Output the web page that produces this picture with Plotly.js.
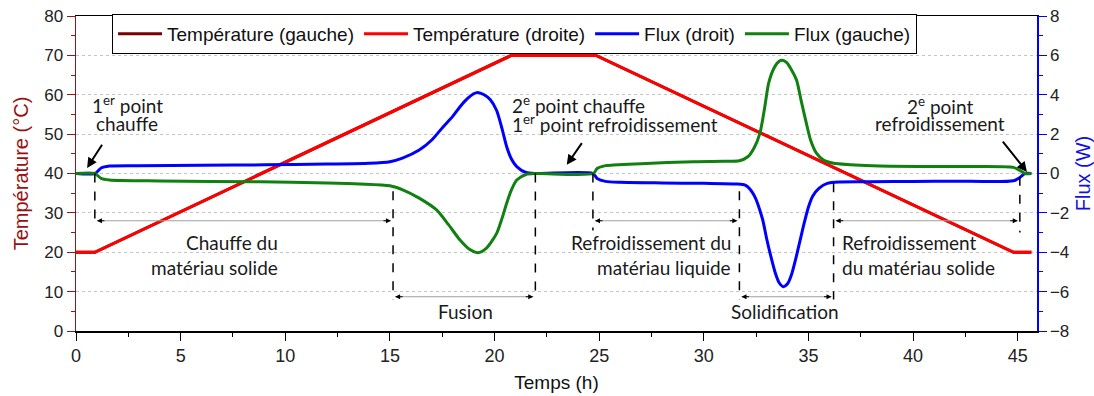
<!DOCTYPE html>
<html>
<head>
<meta charset="utf-8">
<script src="https://cdn.plot.ly/plotly-3.0.1.min.js"></script>
<style>html,body{margin:0;padding:0;background:#fff;}#chart{width:1094px;height:396px;}</style>
</head>
<body>
<div id="chart"></div>
<script>
// Temperature profile (°C)
const tempTime = [0, 0.9, 20.8, 24.85, 44.8, 45.65];
const tempGauche = [20, 20, 70, 70, 20, 20];
const tempDroite = [20, 20, 70, 70, 20, 20];

// Flux (droit) (W)
const fluxDroitTime = [0, 0.9, 1.2, 1.6, 3, 6, 9, 12, 14, 15, 15.6, 16.4, 17, 17.55, 18, 18.35, 18.7, 19.0, 19.2, 19.5, 19.8, 20.1, 20.35, 20.58, 20.8, 21.06, 21.5, 22, 24.7, 24.9, 25.3, 26, 28, 30, 31.5, 32.0, 32.4, 32.8, 33.0, 33.2, 33.4, 33.6, 33.8, 34.0, 34.2, 34.4, 34.6, 34.8, 35.0, 35.2, 35.5, 35.9, 36.5, 38, 40, 42, 44.8, 45.1, 45.35, 45.65];
const fluxDroit = [0, 0, 0.28, 0.38, 0.4, 0.42, 0.44, 0.48, 0.52, 0.6, 0.78, 1.19, 1.7, 2.38, 2.9, 3.39, 3.8, 4.05, 4.12, 4.0, 3.75, 3.2, 2.3, 1.36, 0.75, 0.35, 0.05, 0, 0, -0.25, -0.4, -0.45, -0.48, -0.5, -0.53, -0.6, -1.1, -2.3, -3.3, -4.2, -5.0, -5.55, -5.75, -5.6, -5.1, -4.3, -3.4, -2.5, -1.7, -1.15, -0.75, -0.5, -0.43, -0.42, -0.4, -0.39, -0.37, -0.2, 0, 0];

// Flux (gauche) (W)
const fluxGaucheTime = [0, 0.9, 1.2, 1.6, 4, 8.8, 12, 13.57, 15, 15.64, 16.4, 17.23, 17.8, 18.35, 18.8, 19.2, 19.6, 20.1, 20.35, 20.58, 20.8, 21.06, 21.5, 22, 24.72, 24.9, 25.3, 25.67, 27, 29.5, 31.0, 31.7, 32.1, 32.4, 32.68, 32.9, 33.1, 33.35, 33.6, 33.75, 33.95, 34.2, 34.43, 34.65, 34.9, 35.1, 35.38, 35.7, 36.2, 37, 38.4, 42, 44.8, 45.1, 45.35, 45.65];
const fluxGauche = [0, 0, -0.25, -0.33, -0.38, -0.42, -0.48, -0.53, -0.62, -0.84, -1.25, -1.85, -2.6, -3.38, -3.85, -4.02, -3.8, -3.04, -2.3, -1.51, -0.85, -0.33, -0.05, 0, 0, 0.25, 0.4, 0.43, 0.5, 0.6, 0.62, 0.65, 0.85, 1.3, 2.04, 3.3, 4.6, 5.35, 5.7, 5.75, 5.65, 5.25, 4.75, 3.7, 2.55, 1.7, 1.03, 0.7, 0.52, 0.45, 0.38, 0.35, 0.31, 0.15, 0, 0];

// Phase boundaries (h) and annotation labels
const phaseTimes = [0.9, 15.15, 21.95, 24.7, 31.7, 36.2, 45.1];
const legendNames = ['Température (gauche)', 'Température (droite)', 'Flux (droit)', 'Flux (gauche)'];

const annFont = {family: 'Lato, "Open Sans", sans-serif', size: 19, color: '#1a1a1a'};
const axFont = {family: '"Liberation Sans", Arial, sans-serif', size: 17, color: '#222'};

const traces = [
  {x: tempTime, y: tempGauche, name: legendNames[0], mode: 'lines', line: {color: '#7a0000', width: 3}, yaxis: 'y'},
  {x: tempTime, y: tempDroite, name: legendNames[1], mode: 'lines', line: {color: '#ff0000', width: 3}, yaxis: 'y'},
  {x: fluxDroitTime, y: fluxDroit, name: legendNames[2], mode: 'lines', line: {color: '#0000ff', width: 3, shape: 'spline', smoothing: 0.7}, yaxis: 'y2'},
  {x: fluxGaucheTime, y: fluxGauche, name: legendNames[3], mode: 'lines', line: {color: '#108010', width: 3, shape: 'spline', smoothing: 0.7}, yaxis: 'y2'}
];

const shapes = [];
// dashed vertical phase markers: [time, yTop, yBottom]
const dashSpecs = [
  [phaseTimes[0], 40, 26.5],
  [phaseTimes[1], 35.5, 8.0],
  [phaseTimes[2], 40, 8.0],
  [phaseTimes[3], 40, 25.5],
  [phaseTimes[4], 35.5, 8.0],
  [phaseTimes[5], 37.5, 8.0],
  [phaseTimes[6], 39.2, 25.0]
];
dashSpecs.forEach(d => shapes.push({type: 'line', xref: 'x', yref: 'y', x0: d[0], x1: d[0], y0: d[1], y1: d[2], line: {color: '#000', width: 1.5, dash: 'dash'}}));

// horizontal double arrows: [from, to, y]
const spans = [
  [phaseTimes[0], phaseTimes[1], 28],
  [phaseTimes[1], phaseTimes[2], 8.7],
  [phaseTimes[3], phaseTimes[4], 28],
  [phaseTimes[4], phaseTimes[5], 8.7],
  [phaseTimes[5], phaseTimes[6], 28]
];
const annotations = [];
spans.forEach(s => {
  shapes.push({type: 'line', xref: 'x', yref: 'y', x0: s[0] + 0.1, x1: s[1] - 0.1, y0: s[2], y1: s[2], line: {color: '#a0a0a0', width: 1}});
  annotations.push({x: s[0] + 0.1, y: s[2], xref: 'x', yref: 'y', ax: 9, ay: 0, showarrow: true, arrowhead: 2, arrowsize: 1, arrowwidth: 1, arrowcolor: '#000', text: ''});
  annotations.push({x: s[1] - 0.1, y: s[2], xref: 'x', yref: 'y', ax: -9, ay: 0, showarrow: true, arrowhead: 2, arrowsize: 1, arrowwidth: 1, arrowcolor: '#000', text: ''});
});

// callout arrows: [tipX, tipY, tailX, tailY]
const callouts = [
  [0.53, 41.4, 1.29, 47.7],
  [23.45, 42.2, 24.22, 48.1],
  [45.44, 40.4, 44.23, 48.5]
];
callouts.forEach(c => annotations.push({x: c[0], y: c[1], ax: c[2], ay: c[3], xref: 'x', yref: 'y', axref: 'x', ayref: 'y', showarrow: true, arrowhead: 2, arrowsize: 1, arrowwidth: 2, arrowcolor: '#000', text: ''}));

// text labels: [text, x, y, xanchor]
const labels = [
  ['1<sup>er</sup> point', 2.45, 57.4, 'center'],
  ['chauffe', 2.45, 52.8, 'center'],
  ['2<sup>e</sup> point chauffe', 20.75, 57.5, 'left'],
  ['1<sup>er</sup> point refroidissement', 20.75, 52.6, 'left'],
  ['2<sup>e</sup> point', 41.3, 57.2, 'center'],
  ['refroidissement', 41.3, 52.75, 'center'],
  ['Chauffe du', 9.75, 22.4, 'right'],
  ['matériau solide', 9.75, 16.1, 'right'],
  ['Fusion', 18.6, 4.9, 'center'],
  ['Refroidissement du', 31.4, 22.4, 'right'],
  ['matériau liquide', 31.4, 16.1, 'right'],
  ['Solidification', 33.9, 5.0, 'center'],
  ['Refroidissement', 36.5, 22.4, 'left'],
  ['du matériau solide', 36.5, 16.1, 'left']
];
labels.forEach(l => annotations.push({text: l[0], x: l[1], y: l[2], xref: 'x', yref: 'y', xanchor: l[3], yanchor: 'middle', showarrow: false, font: annFont}));

const layout = {
  width: 1094, height: 396,
  margin: {l: 76, r: 57, t: 16, b: 65},
  paper_bgcolor: '#fff', plot_bgcolor: '#fff',
  font: axFont,
  showlegend: true,
  legend: {orientation: 'h', x: 0.0375, y: 1.007, xanchor: 'left', yanchor: 'top', bordercolor: '#000', borderwidth: 1, bgcolor: '#fff', font: {family: '"Liberation Sans", Arial, sans-serif', size: 19, color: '#111'}, itemwidth: 44, tracegroupgap: 0},
  xaxis: {
    range: [0, 45.92], dtick: 5, tick0: 0, ticks: 'outside', ticklen: 8, tickcolor: '#000', tickwidth: 1,
    minor: {dtick: 2.5, ticks: 'outside', ticklen: 4, tickcolor: '#000', showgrid: false},
    showline: true, linecolor: '#000', linewidth: 1.5, mirror: true, showgrid: false, zeroline: false,
    tickfont: {family: '"Liberation Sans Narrow", "Arial Narrow", "Liberation Sans", sans-serif', size: 18, color: '#222'},
    title: {text: 'Temps (h)', font: {family: '"Liberation Sans Narrow", "Arial Narrow", "Liberation Sans", sans-serif', size: 19, color: '#111'}, standoff: 10}
  },
  yaxis: {
    range: [0, 80], dtick: 10, ticks: 'outside', ticklen: 8, tickcolor: '#8b1a1a', tickwidth: 1,
    minor: {dtick: 5, ticks: 'outside', ticklen: 4, tickcolor: '#8b1a1a', showgrid: false},
    showline: true, linecolor: '#8b1a1a', linewidth: 1.5, zeroline: false,
    showgrid: true, gridcolor: '#c4c4c4', griddash: 'dot', gridwidth: 1,
    tickfont: {family: '"Liberation Sans", Arial, sans-serif', size: 17, color: '#222'},
    title: {text: 'Température (°C)', font: {family: '"Liberation Sans", Arial, sans-serif', size: 20, color: '#9a1010'}, standoff: 10}
  },
  yaxis2: {
    range: [-8, 8], dtick: 2, overlaying: 'y', side: 'right', ticks: 'outside', ticklen: 8, tickcolor: '#0000ff', tickwidth: 1,
    minor: {dtick: 1, ticks: 'outside', ticklen: 4, tickcolor: '#0000ff', showgrid: false},
    showline: true, linecolor: '#0000ff', linewidth: 1.5, zeroline: false, showgrid: false,
    tickfont: {family: '"Liberation Sans", Arial, sans-serif', size: 17, color: '#222'},
    title: {text: 'Flux (W)', font: {family: '"Liberation Sans", Arial, sans-serif', size: 20, color: '#1010e0'}, standoff: 8}
  },
  shapes: shapes,
  annotations: annotations
};

Plotly.newPlot('chart', traces, layout, {displayModeBar: false, staticPlot: true});
</script>
</body>
</html>
